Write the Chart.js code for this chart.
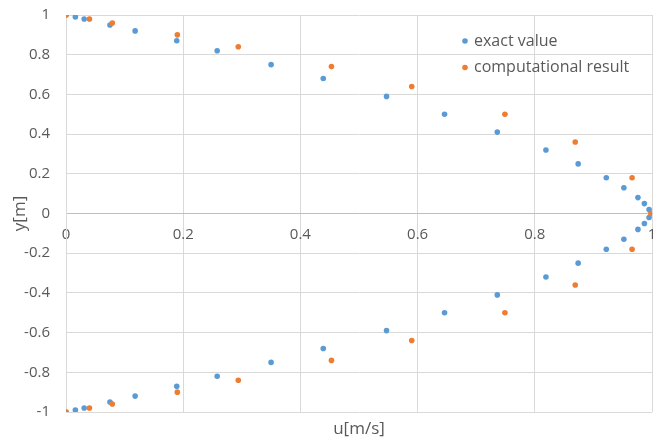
<!DOCTYPE html>
<html>
<head>
<meta charset="utf-8">
<script src="https://cdn.jsdelivr.net/npm/chart.js@4.4.1/dist/chart.umd.min.js"></script>
<style>
  html, body { margin: 0; padding: 0; background: #fff; }
  #wrap { width: 661px; height: 439px; position: relative; }
</style>
</head>
<body>
<div id="wrap"><canvas id="chart"></canvas></div>
<script>
/* velocity profile: exact vs computed */

const exactU = [0, 0.016, 0.031, 0.075, 0.118, 0.189, 0.258, 0.350, 0.439, 0.547, 0.646, 0.736, 0.819, 0.874, 0.922, 0.952, 0.976, 0.987, 0.995,
                0.995, 0.987, 0.976, 0.952, 0.922, 0.874, 0.819, 0.736, 0.646, 0.547, 0.439, 0.350, 0.258, 0.189, 0.118, 0.075, 0.031, 0.016, 0];
const exactY = [1, 0.99, 0.98, 0.95, 0.92, 0.87, 0.82, 0.75, 0.68, 0.59, 0.50, 0.41, 0.32, 0.25, 0.18, 0.13, 0.08, 0.05, 0.02,
                -0.02, -0.05, -0.08, -0.13, -0.18, -0.25, -0.32, -0.41, -0.50, -0.59, -0.68, -0.75, -0.82, -0.87, -0.92, -0.95, -0.98, -0.99, -1];

const compU = [0, 0.040, 0.079, 0.190, 0.294, 0.453, 0.590, 0.749, 0.869, 0.966, 0.998,
               0.966, 0.869, 0.749, 0.590, 0.453, 0.294, 0.190, 0.079, 0.040, 0];
const compY = [1, 0.98, 0.96, 0.90, 0.84, 0.74, 0.64, 0.50, 0.36, 0.18, 0,
               -0.18, -0.36, -0.50, -0.64, -0.74, -0.84, -0.90, -0.96, -0.98, -1];

const seriesNames = ['exact value', 'computational result'];
const seriesColors = ['#5B9BD5', '#ED7D31'];

const FONT = '"Open Sans", "Liberation Sans", sans-serif';
const TXT = '#595959';
const GRID = '#D9D9D9';

const fmtTick = v => String(Math.round(v * 10) / 10);

const toPts = (xs, ys) => xs.map((x, i) => ({ x, y: ys[i] }));

/* legend sits inside the plot, top right */
const innerLegend = {
  id: 'innerLegend',
  afterDraw(chart) {
    const { ctx } = chart;
    ctx.save();
    ctx.font = '16px ' + FONT;
    ctx.textBaseline = 'middle';
    seriesNames.forEach((name, i) => {
      const y = 41 + i * 26.5;
      ctx.fillStyle = seriesColors[i];
      ctx.beginPath();
      ctx.arc(465, y, 2.8, 0, Math.PI * 2);
      ctx.fill();
      ctx.fillStyle = TXT;
      ctx.fillText(name, 474, y);
    });
    ctx.restore();
  },
};

new Chart(document.getElementById('chart'), {
  type: 'scatter',
  data: {
    datasets: [
      // orange first so it is painted over the blue dots
      { label: seriesNames[1], data: toPts(compU, compY), backgroundColor: seriesColors[1],
        pointRadius: 2.8, pointBorderWidth: 0, pointHoverRadius: 2.8 },
      { label: seriesNames[0], data: toPts(exactU, exactY), backgroundColor: seriesColors[0],
        pointRadius: 2.8, pointBorderWidth: 0, pointHoverRadius: 2.8 },
    ],
  },
  options: {
    responsive: true,
    maintainAspectRatio: false,
    animation: false,
    layout: { padding: { top: 15, right: 9, bottom: 0, left: 0 } },
    plugins: {
      legend: { display: false },
      tooltip: { enabled: false },
    },
    scales: {
      x: {
        type: 'linear', position: 'bottom', min: 0, max: 1,
        ticks: { display: false, stepSize: 0.2 },
        grid: { color: GRID, drawTicks: false },
        border: { display: false },
        title: { display: true, text: 'u[m/s]', color: TXT, font: { family: FONT, size: 17 }, padding: { top: 6, bottom: 0 } },
        afterFit: s => { s.height = 27; s.paddingLeft = 0; s.paddingRight = 0; },
      },
      x2: {
        type: 'linear', position: { y: 0 }, min: 0, max: 1,
        ticks: { stepSize: 0.2, color: TXT, font: { family: FONT, size: 15 }, padding: 12, callback: fmtTick, maxRotation: 0 },
        grid: { display: false, drawTicks: false },
        border: { display: true, color: '#BFBFBF', width: 1 },
        afterFit: s => { s.paddingLeft = 0; s.paddingRight = 0; },
      },
      y: {
        type: 'linear', position: 'left', min: -1, max: 1,
        ticks: { stepSize: 0.2, color: TXT, font: { family: FONT, size: 15 }, padding: 16, callback: fmtTick },
        grid: { color: GRID, drawTicks: false },
        border: { display: true, color: GRID },
        title: { display: true, text: 'y[m]', color: TXT, font: { family: FONT, size: 17 }, padding: { top: 10, bottom: 0 } },
        afterFit: s => { s.width = 66; s.paddingTop = 0; s.paddingBottom = 0; },
      },
    },
  },
  plugins: [innerLegend],
});
</script>
</body>
</html>
